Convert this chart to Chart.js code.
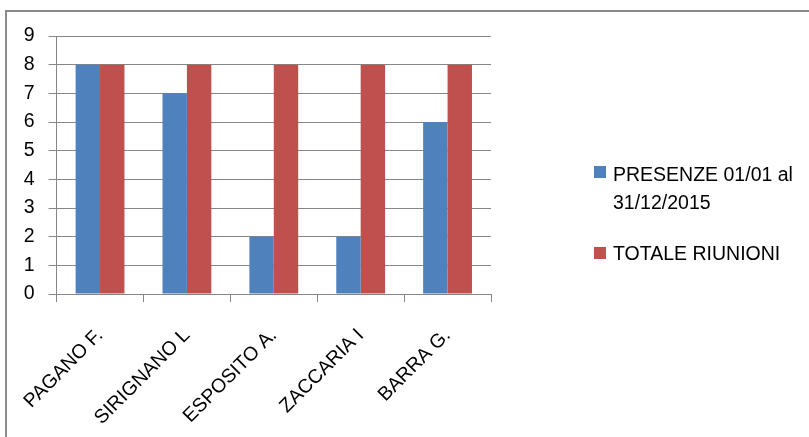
<!DOCTYPE html>
<html>
<head>
<meta charset="utf-8">
<script src="https://cdn.jsdelivr.net/npm/chart.js@4/dist/chart.umd.min.js"></script>
<style>
  html, body { margin: 0; padding: 0; background: #fff; }
  #wrap { position: relative; width: 809px; height: 437px; overflow: hidden; background: #fff; }
  #frame { position: absolute; left: 5px; top: 10px; width: 820px; height: 440px;
           border-top: 2px solid #8a8a8a; border-left: 2px solid #8a8a8a; }
  canvas { position: absolute; left: 0; top: 0; }
  .leg { position: absolute; left: 594px; font-family: "Liberation Sans", Arial, sans-serif;
         font-size: 19.5px; line-height: 28px; color: #000; }
  .sw { position: absolute; left: 0; width: 12px; height: 12px; }
  .lt { position: absolute; left: 19px; white-space: nowrap; }
</style>
</head>
<body>
<div id="wrap">
  <div id="frame"></div>
  <canvas id="c" width="809" height="437"></canvas>
  <div class="leg" id="leg1" style="top:160px;">
    <div class="sw" style="top:6px;background:#4F81BD;"></div>
    <div class="lt" style="top:0;" id="lt1"></div>
  </div>
  <div class="leg" id="leg2" style="top:239px;">
    <div class="sw" style="top:8px;background:#C0504D;"></div>
    <div class="lt" style="top:0;" id="lt2"></div>
  </div>
</div>
<script>
const categories = ["PAGANO F.", "SIRIGNANO L", "ESPOSITO A.", "ZACCARIA I", "BARRA G."];
const presenze = [8, 7, 2, 2, 6];
const totaleRiunioni = [8, 8, 8, 8, 8];
const seriesNames = ["PRESENZE 01/01 al 31/12/2015", "TOTALE RIUNIONI"];
const legendLines1 = ["PRESENZE 01/01 al", "31/12/2015"];
const yMin = 0, yMax = 9, yStep = 1;

document.getElementById('lt1').innerHTML = legendLines1.join('<br>');
document.getElementById('lt2').textContent = seriesNames[1];

const FONT = { family: "'Liberation Sans', Arial, sans-serif", size: 19.5 };
const GRID = '#868686';

new Chart(document.getElementById('c'), {
  type: 'bar',
  data: {
    labels: categories,
    datasets: [
      { label: seriesNames[0], data: presenze, backgroundColor: '#4F81BD', barPercentage: 1, categoryPercentage: 0.562 },
      { label: seriesNames[1], data: totaleRiunioni, backgroundColor: '#C0504D', barPercentage: 1, categoryPercentage: 0.562 }
    ]
  },
  options: {
    responsive: false,
    animation: false,
    layout: { padding: { left: 0, top: 36, right: 318, bottom: 0 } },
    plugins: { legend: { display: false }, tooltip: { enabled: false } },
    scales: {
      x: {
        grid: { offset: true, drawOnChartArea: false, drawTicks: true, tickLength: 8, color: GRID },
        border: { color: GRID, width: 1 },
        ticks: { minRotation: 45, maxRotation: 45, autoSkip: false, font: FONT, color: '#000', padding: 22 },
        afterFit(s) { s.height = 143; }
      },
      y: {
        min: yMin, max: yMax,
        grid: { color: GRID, tickLength: 8 },
        border: { color: GRID, width: 1 },
        ticks: { stepSize: yStep, font: FONT, color: '#000', padding: 14, autoSkip: false },
        afterFit(s) { s.width = 55; }
      }
    }
  }
});
</script>
</body>
</html>
